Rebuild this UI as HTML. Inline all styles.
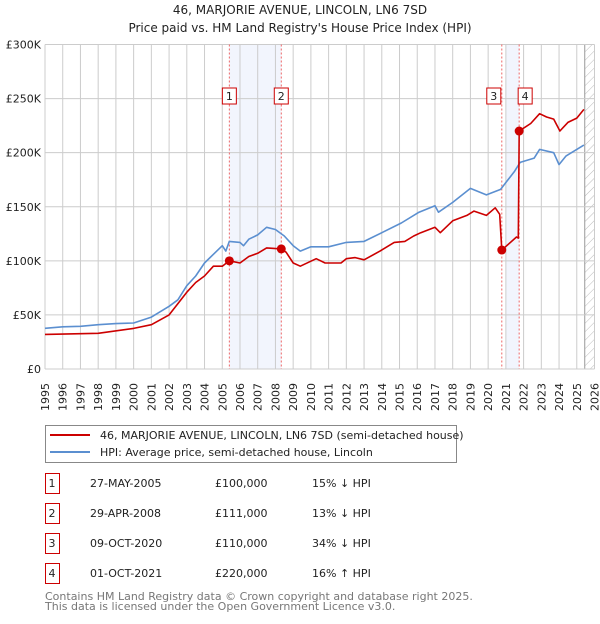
<!DOCTYPE html>
<html><head><meta charset="utf-8">
<style>
body{margin:0;background:#fff;font-family:"DejaVu Sans","Liberation Sans",sans-serif;}
svg text{font-family:"DejaVu Sans","Liberation Sans",sans-serif;}
</style></head>
<body>
<svg id="chart" width="600" height="620" viewBox="0 0 600 620" xmlns="http://www.w3.org/2000/svg">
<defs>
<pattern id="hatch" width="6" height="6" patternUnits="userSpaceOnUse" patternTransform="rotate(45)">
<line x1="0" y1="0" x2="0" y2="6" stroke="#bbb" stroke-width="1"/>
</pattern>
</defs>
<text x="300" y="14" text-anchor="middle" font-size="12" fill="#222">46, MARJORIE AVENUE, LINCOLN, LN6 7SD</text>
<text x="300" y="32" text-anchor="middle" font-size="12" fill="#222">Price paid vs. HM Land Registry's House Price Index (HPI)</text>
<g id="plot"></g>
<g>
<rect x="45.5" y="425.5" width="411" height="37" fill="#fff" stroke="#888"/>
<line x1="50" y1="435" x2="90" y2="435" stroke="#cc0000" stroke-width="2"/>
<text x="100" y="439" font-size="11" fill="#222">46, MARJORIE AVENUE, LINCOLN, LN6 7SD (semi-detached house)</text>
<line x1="50" y1="452" x2="90" y2="452" stroke="#5b8fd0" stroke-width="2"/>
<text x="100" y="456" font-size="11" fill="#222">HPI: Average price, semi-detached house, Lincoln</text>
</g>
<g id="table" font-size="11" fill="#222"></g>
<text x="45" y="600" font-size="11" fill="#777">Contains HM Land Registry data © Crown copyright and database right 2025.</text>
<text x="45" y="610" font-size="11" fill="#777">This data is licensed under the Open Government Licence v3.0.</text>
</svg>
<script>
const yearTicks=[1995,1996,1997,1998,1999,2000,2001,2002,2003,2004,2005,2006,2007,2008,2009,2010,2011,2012,2013,2014,2015,2016,2017,2018,2019,2020,2021,2022,2023,2024,2025,2026];
const priceTicks=[0,50000,100000,150000,200000,250000,300000];
const priceTickLabels=["£0","£50K","£100K","£150K","£200K","£250K","£300K"];
const hpiYears=[1995,1996,1997,1998,1999,2000,2001,2002,2002.5,2003,2003.5,2004,2004.5,2005,2005.2,2005.4,2006,2006.2,2006.5,2007,2007.5,2008,2008.5,2009,2009.4,2010,2011,2012,2013,2014,2015.1,2016.1,2017,2017.2,2018,2019,2019.9,2020.7,2021.5,2021.8,2022.6,2022.9,2023.7,2024,2024.4,2025.4];
const hpiValues=[37600,39000,39500,41000,42000,42500,48000,58000,64000,77000,86000,98000,106000,114000,109000,118000,117000,114000,120000,124000,131000,129000,123000,114000,109000,113000,113000,117000,118000,126000,135000,145000,151000,145000,154000,167000,161000,166000,183000,191000,195000,203000,200000,189000,197000,207000];
const paidYears=[1995,1998,2000,2001,2002,2003,2003.5,2004,2004.5,2005,2005.4,2006,2006.5,2007,2007.5,2008.33,2008.6,2009,2009.4,2010.3,2010.8,2011.7,2012,2012.5,2013,2013.9,2014.7,2015.3,2015.8,2016.2,2017,2017.3,2018,2018.8,2019.2,2019.9,2020.4,2020.65,2020.77,2021.6,2021.7,2021.75,2022.4,2022.9,2023.3,2023.7,2024.05,2024.5,2025,2025.4];
const paidValues=[32000,33000,37500,41000,50000,71000,80000,86000,95000,95000,100000,98000,104000,107000,112000,111000,108000,98000,95000,102000,98000,98000,102000,103000,101000,109000,117000,118000,123000,126000,131000,126000,137000,142000,146000,142000,149000,143000,110000,122000,121000,220000,227000,236000,233000,231000,220000,228000,232000,240000];
const saleLabels=["1","2","3","4"];
const saleYears=[2005.4,2008.33,2020.77,2021.75];
const salePrices=[100000,111000,110000,220000];
const saleDates=["27-MAY-2005","29-APR-2008","09-OCT-2020","01-OCT-2021"];
const salePriceText=["£100,000","£111,000","£110,000","£220,000"];
const saleHpiText=["15% ↓ HPI","13% ↓ HPI","34% ↓ HPI","16% ↑ HPI"];
const shadeRanges=[[2005.4,2008.33],[2020.98,2021.75]];
const hatchStart=2025.45;

const NS="http://www.w3.org/2000/svg";
const X0=45,X1=594.5,Y0=369,Y1=44.5;
function xs(y){return X0+(y-1995)/(2026-1995)*(X1-X0);}
function ys(v){return Y0-v/300000*(Y0-Y1);}
function mk(tag,attrs,parent){const e=document.createElementNS(NS,tag);for(const k in attrs)e.setAttribute(k,attrs[k]);parent.appendChild(e);return e;}
const plot=document.getElementById('plot');

shadeRanges.forEach((r,i)=>{
  const e=mk('rect',{x:xs(r[0]),y:Y1,width:xs(r[1])-xs(r[0]),height:Y0-Y1,fill:'#f2f5fd'},plot);
  
  
});
const h=mk('rect',{x:xs(hatchStart),y:Y1,width:X1-xs(hatchStart),height:Y0-Y1,fill:'url(#hatch)'},plot);


const hl=mk('line',{x1:xs(hatchStart),x2:xs(hatchStart),y1:Y1,y2:Y0,stroke:'#999','stroke-width':1},plot);



yearTicks.forEach(y=>{
  const l=mk('line',{x1:xs(y),x2:xs(y),y1:Y1,y2:Y0,stroke:'#cccccc','stroke-width':1},plot);
  
  
  const t=mk('text',{x:0,y:0,'font-size':11,fill:'#222','text-anchor':'end',transform:`translate(${(xs(y)+4).toFixed(1)},${Y0+14}) rotate(-90)`},plot);
  t.textContent=y;
  
  
});
priceTicks.forEach((v,i)=>{
  const l=mk('line',{x1:X0,x2:X1,y1:ys(v),y2:ys(v),stroke:'#cccccc','stroke-width':1},plot);
  
  
  const t=mk('text',{x:X0-4,y:ys(v)+4,'font-size':11,fill:'#222','text-anchor':'end'},plot);
  t.textContent=priceTickLabels[i];
  
  
});

saleYears.forEach((y,i)=>{
  const l=mk('line',{x1:xs(y),x2:xs(y),y1:Y1,y2:Y0,stroke:'#ee6666','stroke-width':1,'stroke-dasharray':'2,2'},plot);
  
  
});

function path(xsArr,vals,color,name){
  const d=xsArr.map((y,i)=>(i?'L':'M')+xs(y).toFixed(1)+','+ys(vals[i]).toFixed(1)).join('');
  const p=mk('path',{d:d,fill:'none',stroke:color,'stroke-width':1.6,'stroke-linejoin':'round'},plot);
  
  
}
path(hpiYears,hpiValues,'#5b8fd0','hpi-line');
path(paidYears,paidValues,'#cc0000','price-paid-line');

saleYears.forEach((y,i)=>{
  const c=mk('circle',{cx:xs(y),cy:ys(salePrices[i]),r:4.5,fill:'#cc0000'},plot);
  
  
  const off=(i===2)?-8:(i===3?6:0);
  const bx=xs(y)+off-7;
  const r=mk('rect',{x:bx,y:88,width:14,height:16,fill:'#fff',stroke:'#cc0000','stroke-width':1},plot);
  
  
  const t=mk('text',{x:bx+7,y:100,'font-size':11,fill:'#222','text-anchor':'middle'},plot);
  t.textContent=saleLabels[i];
  
  
});

const tbl=document.getElementById('table');
saleLabels.forEach((s,i)=>{
  const cy=483+i*30;
  const r=mk('rect',{x:45.5,y:cy-9.5,width:14,height:20,fill:'#fff',stroke:'#cc0000'},tbl);
  
  
  const cols=[[52,s,'middle'],[90,saleDates[i],'start'],[215,salePriceText[i],'start'],[312,saleHpiText[i],'start']];
  cols.forEach(c=>{
    const t=mk('text',{x:c[0],y:cy+4,'text-anchor':c[2]},tbl);
    t.textContent=c[1];
    
    
  });
});
</script>
</body></html>
